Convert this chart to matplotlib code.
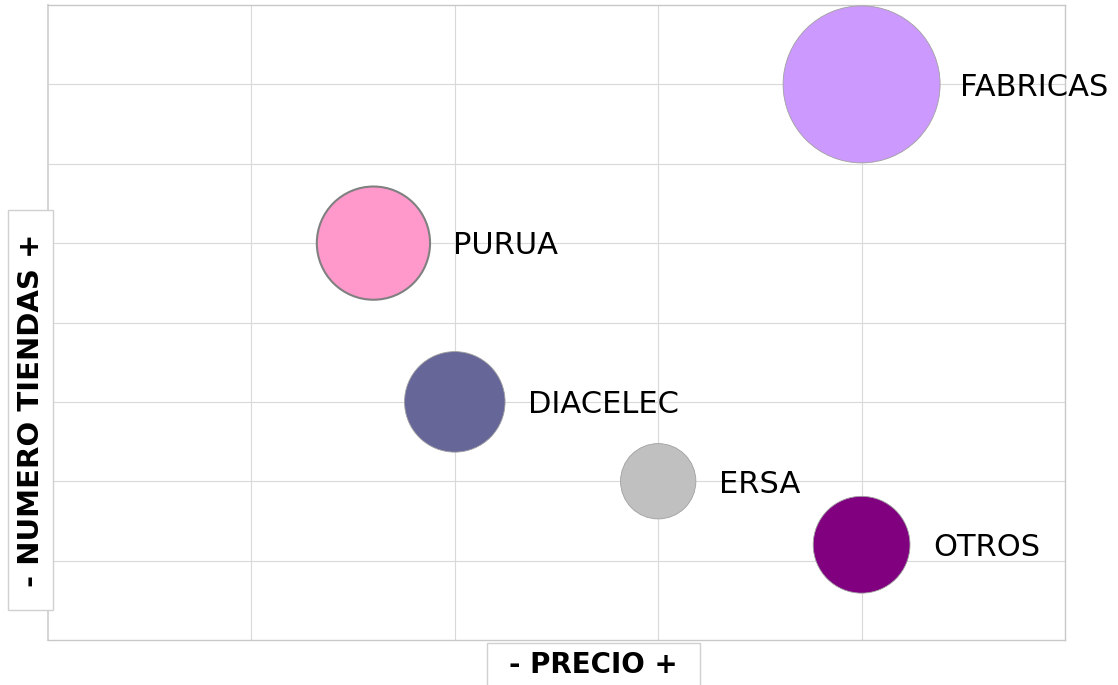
#imports required libraries
import numpy as np
import matplotlib
matplotlib.use('Agg')
import matplotlib.pyplot as plt
from matplotlib.patches import Rectangle

#data
names = ['FABRICAS', 'PURUA', 'DIACELEC', 'ERSA', 'OTROS']
precio = [4, 1.6, 2, 3, 4]
tiendas = [7, 5, 3, 2, 1.2]
bubble_size = [100, 52, 41, 23, 38]
colors = ['#CC99FF', '#FF99CC', '#666699', '#C0C0C0', '#800080']

#figure and axes placement
W, H, DPI = 1118, 685, 100
fig = plt.figure(figsize=(W/DPI, H/DPI), dpi=DPI)
ax = fig.add_axes([48/W, 1 - 640/H, (1065-48)/W, (640-5)/H])

ax.set_xlim(0, 5)
ax.set_ylim(0, 8)
ax.set_xticks(np.arange(1, 5))
ax.set_yticks(np.arange(1, 8))
ax.set_xticklabels([])
ax.set_yticklabels([])
ax.tick_params(length=0)
ax.grid(True, color='#d9d9d9', linewidth=0.8)
ax.set_axisbelow(True)
for side in ['top', 'right', 'bottom']:
    ax.spines[side].set_color('#c8c8c8')
    ax.spines[side].set_linewidth(1.0)
ax.spines['left'].set_color('#d6d6d6')
ax.spines['left'].set_linewidth(1.5)

#bubble area: biggest one is ~157 px across
full = (2*78.5*72/DPI)**2
sizes = np.array(bubble_size)/max(bubble_size)*full
edges = ['#808080' if n == 'PURUA' else '#a0a0a0' for n in names]
widths = [1.5 if n == 'PURUA' else 0.6 for n in names]
ax.scatter(precio, tiendas, s=sizes, c=colors, edgecolors=edges,
           linewidths=widths, zorder=3, clip_on=False)

#labels to the right of each bubble
texts = []
for n, xv, yv, s in zip(names, precio, tiendas, sizes):
    r_pt = np.sqrt(s)/2
    t = ax.annotate(n, (xv, yv), xytext=(r_pt + 23*72/DPI, -2),
                    textcoords='offset points', ha='left', va='center',
                    fontsize=22, color='black', zorder=4, annotation_clip=False)
    texts.append(t)

#axis title boxes, drawn in pixel-based figure coords
def px_box(x0, y0, x1, y1):
    fig.patches.append(Rectangle((x0/W, 1 - y1/H), (x1-x0)/W, (y1-y0)/H,
                                 transform=fig.transFigure, fc='white',
                                 ec='#d0d0d0', lw=1, zorder=0))

px_box(487, 643, 700, 690)
px_box(8, 210, 53, 610)
fig.text(593/W, 1 - 665/H, '- PRECIO +', ha='center', va='center',
         fontsize=20, fontweight='bold')
fig.text(31/W, 1 - 410/H, '- NUMERO TIENDAS +', ha='center', va='center',
         rotation=90, fontsize=21, fontweight='bold')

#keep labels inside the picture
fig.canvas.draw()
for t in texts:
    bb = t.get_window_extent()
    if bb.x1 > W - 10:
        ox, oy = t.xyann
        t.xyann = (ox - (bb.x1 - (W - 10))*72/DPI, oy)

fig.savefig('out.png', dpi=DPI)
